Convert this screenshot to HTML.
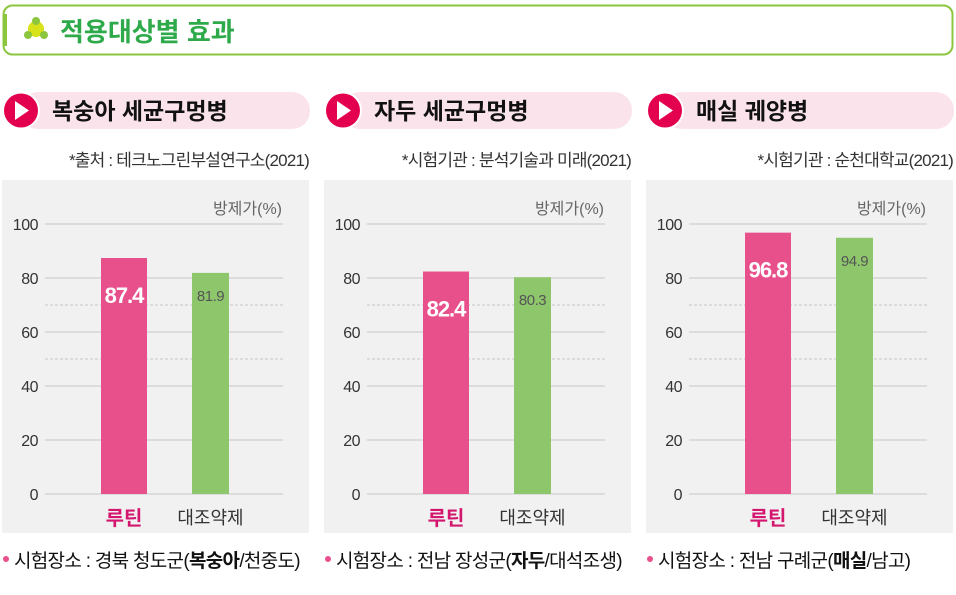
<!DOCTYPE html>
<html><head><meta charset="utf-8"><style>
body{margin:0;width:956px;height:595px;background:#fff;overflow:hidden;font-family:"Liberation Sans","Noto Sans CJK KR",sans-serif;}
</style></head><body>
<svg id="s" width="956" height="595" xmlns="http://www.w3.org/2000/svg" style="position:absolute;left:0;top:0;font-family:'Liberation Sans','Noto Sans CJK KR',sans-serif">
<g>
<rect x="3.5" y="5.5" width="949" height="49" rx="9" fill="#fff" stroke="#8cc63f" stroke-width="2"/>
<rect x="3" y="14" width="4" height="32" fill="#8cc63f"/>
<circle cx="36" cy="29" r="8" fill="#d8e21a"/><circle cx="36" cy="21" r="4" fill="#8cc63f"/><circle cx="28" cy="35" r="4" fill="#8cc63f"/><circle cx="44" cy="35" r="4" fill="#8cc63f"/>
<text x="60" y="41" font-size="26" font-weight="bold" fill="#2eaa4a">적용대상별 효과</text>
</g>
<g id="charts"></g>
</svg>
<script>
const titles=["복숭아 세균구멍병","자두 세균구멍병","매실 궤양병"];
const sources=["*출처 : 테크노그린부설연구소(2021)","*시험기관  : 분석기술과 미래(2021)","*시험기관 : 순천대학교(2021)"];
const categories=["루틴","대조약제"];
const rutinValues=[87.4,82.4,96.8];
const controlValues=[81.9,80.3,94.9];
const yTicks=[0,20,40,60,80,100];
const dashedTicks=[50,70];
const notesPre=["시험장소 : 경북 청도군(","시험장소 : 전남 장성군(","시험장소 : 전남 구례군("];
const notesBold=["복숭아","자두","매실"];
const notesPost=["/천중도)","/대석조생)","/남고)"];
const NS="http://www.w3.org/2000/svg";
const root=document.getElementById('charts');
function mk(tag,attrs,parent,txt){const e=document.createElementNS(NS,tag);for(const k in attrs)e.setAttribute(k,attrs[k]);if(txt!==undefined)e.textContent=txt;parent.appendChild(e);return e;}
function yScale(v){return 494-v*2.7;}
for(let i=0;i<3;i++){
  const ox=i*322;
  const g=mk('g',{},root);
  
  
  const hp=mk('rect',{x:ox+20,y:92,width:290,height:37,rx:18,fill:'#fbe3ec'},g);
  
  
  mk('circle',{cx:ox+21,cy:110.5,r:19,fill:'#fff'},g);
  const c=mk('circle',{cx:ox+21,cy:110.5,r:17,fill:'#e2004f'},g);
  
  
  mk('path',{d:`M${ox+15} ${101}L${ox+29} ${110.5}L${ox+15} ${120}Z`,fill:'#fff'},g);
  const ht=mk('text',{x:ox+52,y:119,'font-size':23,'font-weight':'bold',fill:'#111'},g,titles[i]);
  
  
  const st=mk('text',{x:ox+309,y:166,'font-size':17,fill:'#333','text-anchor':'end','letter-spacing':'-0.8'},g,sources[i]);
  
  
  const bg=mk('rect',{x:ox+2,y:180,width:307,height:353,fill:'#f1f1f1'},g);
  
  
  const yt=mk('text',{x:ox+282,y:214,'font-size':16,fill:'#666','text-anchor':'end'},g,'방제가(%)');
  
  
  yTicks.forEach(t=>{
    const y=yScale(t);
    const l=mk('line',{x1:ox+45,x2:ox+283,y1:y,y2:y,stroke:'#c8c8c8','stroke-width':1},g);
    
    
    const tx=mk('text',{x:ox+38,y:y+6,'font-size':16,fill:'#333','text-anchor':'end','letter-spacing':'-0.5'},g,String(t));
    
    
  });
  dashedTicks.forEach(t=>{
    const y=yScale(t);
    const l=mk('line',{x1:ox+45,x2:ox+283,y1:y,y2:y,stroke:'#c8c8c8','stroke-width':1,'stroke-dasharray':'3,2'},g);
    
    
  });
  const vals=[rutinValues[i],controlValues[i]];
  const bx=[ox+101,ox+192],bw=[46,37],fills=['#e8508b','#8ec66c'];
  vals.forEach((v,j)=>{
    const top=yScale(v);
    const b=mk('rect',{x:bx[j],y:top,width:bw[j],height:494-top,fill:fills[j]},g);
    
    
    const lt=j?mk('text',{x:bx[j]+bw[j]/2,y:top+28,'font-size':15,fill:'#555','text-anchor':'middle','letter-spacing':'-0.5'},g,v.toFixed(1))
             :mk('text',{x:bx[j]+bw[j]/2,y:top+45,'font-size':22,'font-weight':'bold',fill:'#fff','text-anchor':'middle','letter-spacing':'-1'},g,v.toFixed(1));
    
    
    const cl=j?mk('text',{x:bx[j]+bw[j]/2,y:524,'font-size':18,fill:'#333','text-anchor':'middle'},g,categories[j])
              :mk('text',{x:bx[j]+bw[j]/2,y:525,'font-size':20,'font-weight':'bold',fill:'#d4166e','text-anchor':'middle'},g,categories[j]);
    
    
  });
  mk('circle',{cx:ox+6,cy:559,r:3,fill:'#e8508b'},g);
  const n=mk('text',{x:ox+14,y:567,'font-size':19,fill:'#111','letter-spacing':'-0.7'},g);
  
  
  mk('tspan',{},n,notesPre[i]);
  mk('tspan',{'font-weight':'bold'},n,notesBold[i]);
  mk('tspan',{},n,notesPost[i]);
}
</script>
</body></html>
